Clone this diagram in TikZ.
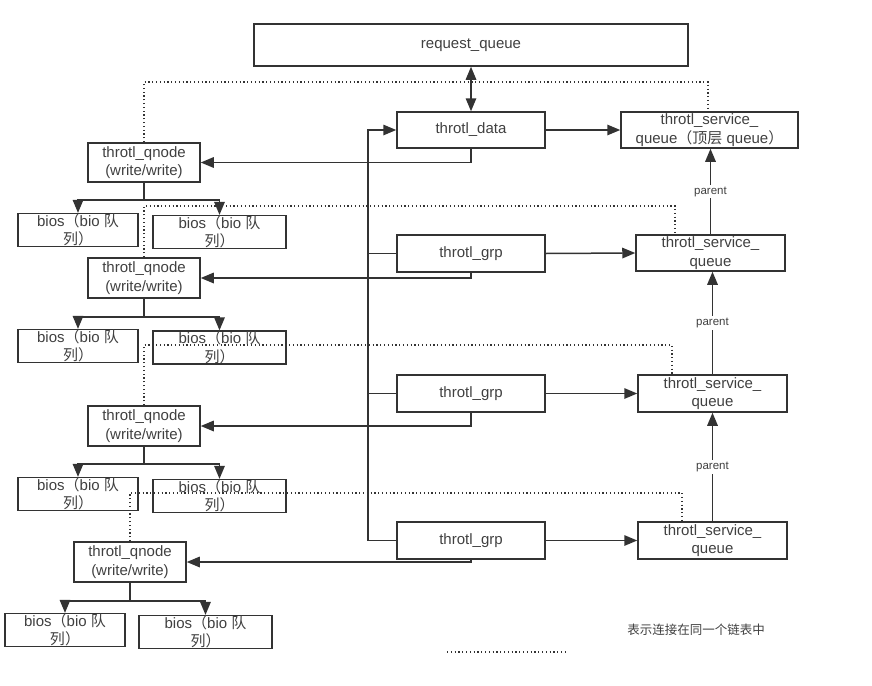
\documentclass[tikz,border=0pt]{standalone}
\usepackage{fontspec}
\setmainfont{Liberation Sans}
\newfontfamily\cjk{Noto Sans CJK SC}
\usetikzlibrary{arrows.meta,calc}
\definecolor{lncol}{HTML}{333333}
\definecolor{txcol}{HTML}{404040}
\begin{document}
\begin{tikzpicture}[x=1pt,y=-1pt,
  box/.style={draw=lncol,line width=1.5pt,text=txcol,inner sep=0pt,align=center,
    font=\fontsize{15}{18.5}\selectfont},
  arr/.style={draw=lncol,line width=1.5pt,-{Triangle[length=13pt,width=10.5pt]}},
  darr/.style={draw=lncol,line width=1.5pt,{Triangle[length=13pt,width=10.5pt]}-{Triangle[length=13pt,width=10.5pt]}},
  plain/.style={draw=lncol,line width=1.5pt},
  dotl/.style={draw=lncol,line width=1.2pt,dash pattern=on 1.2pt off 2.6pt},
  plab/.style={midway,fill=white,text=txcol,inner sep=2pt,font=\fontsize{11.5}{13}\selectfont}
]
\useasboundingbox (0,0) rectangle (872,685);

% top row
\node[box,minimum width=434pt,minimum height=42pt] (rq) at (471,45) {request\_queue};
\node[box,minimum width=148pt,minimum height=36pt] (data) at (471,130) {throtl\_data};
\node[box,minimum width=177pt,minimum height=36pt] (tsq1) at (709.5,130) {throtl\_service\_\\queue{\cjk （顶层} queue{\cjk ）}};

% level 1
\node[box,minimum width=112pt,minimum height=39pt] (q1) at (144,162.5) {throtl\_qnode\\(write/write)};
\node[box,minimum width=120pt,minimum height=32pt] (b1l) at (78,230) {bios{\cjk （}bio {\cjk 队}\\{\cjk 列）}};
\node[box,minimum width=133pt,minimum height=32pt] (b1r) at (219.5,232) {bios{\cjk （}bio {\cjk 队}\\{\cjk 列）}};

% level 2
\node[box,minimum width=148pt,minimum height=37pt] (grp1) at (471,253.5) {throtl\_grp};
\node[box,minimum width=149pt,minimum height=36pt] (tsq2) at (710.5,253) {throtl\_service\_\\queue};
\node[box,minimum width=112pt,minimum height=40pt] (q2) at (144,278) {throtl\_qnode\\(write/write)};
\node[box,minimum width=120pt,minimum height=32pt] (b2l) at (78,346) {bios{\cjk （}bio {\cjk 队}\\{\cjk 列）}};
\node[box,minimum width=133pt,minimum height=31pt] (b2r) at (219.5,347.5) {bios{\cjk （}bio {\cjk 队}\\{\cjk 列）}};

% level 3
\node[box,minimum width=148pt,minimum height=37pt] (grp2) at (471,393.5) {throtl\_grp};
\node[box,minimum width=149pt,minimum height=37pt] (tsq3) at (712.5,393.5) {throtl\_service\_\\queue};
\node[box,minimum width=112pt,minimum height=40pt] (q3) at (144,426) {throtl\_qnode\\(write/write)};
\node[box,minimum width=120pt,minimum height=32pt] (b3l) at (78,494) {bios{\cjk （}bio {\cjk 队}\\{\cjk 列）}};
\node[box,minimum width=133pt,minimum height=32pt] (b3r) at (219.5,496) {bios{\cjk （}bio {\cjk 队}\\{\cjk 列）}};

% level 4
\node[box,minimum width=148pt,minimum height=37pt] (grp3) at (471,540.5) {throtl\_grp};
\node[box,minimum width=149pt,minimum height=37pt] (tsq4) at (712.5,540.5) {throtl\_service\_\\queue};
\node[box,minimum width=112pt,minimum height=40pt] (q4) at (130,562) {throtl\_qnode\\(write/write)};
\node[box,minimum width=120pt,minimum height=32pt] (b4l) at (65,630) {bios{\cjk （}bio {\cjk 队}\\{\cjk 列）}};
\node[box,minimum width=133pt,minimum height=32pt] (b4r) at (205.5,632) {bios{\cjk （}bio {\cjk 队}\\{\cjk 列）}};

% request_queue <-> throtl_data
\draw[darr] (rq.south) -- (data.north);
% data -> tsq1, grp -> tsq
\draw[arr] (data.east) -- (tsq1.west);
\draw[arr] (grp1.east) -- (tsq2.west);
\draw[arr] (grp2.east) -- (tsq3.west);
\draw[arr] (grp3.east) -- (tsq4.west);

% parent arrows
\draw[arr] (tsq2.north) -- (tsq2.north |- tsq1.south) node[plab] {parent};
\draw[arr] (tsq3.north) -- (tsq3.north |- tsq2.south) node[plab] {parent};
\draw[arr] (tsq4.north) -- (tsq4.north |- tsq3.south) node[plab] {parent};

% vertical bus at x=368
\coordinate (vtop) at (368,130);
\coordinate (vbot) at (368,540.5);
\draw[arr] (grp3.west) -- (vbot) -- (vtop) -- (data.west);
\draw[plain] (grp1.west) -- (grp1.west -| vtop);
\draw[plain] (grp2.west) -- (grp2.west -| vtop);

% data/grp -> qnode
\draw[arr] (data.south) |- (q1.east);
\draw[arr] (grp1.south) |- (q2.east);
\draw[arr] (grp2.south) |- (q3.east);
\draw[arr] ([yshift=0.6pt]grp3.south) |- (q4.east);

% qnode -> bios
\draw[arr] (q1.south) -- ++(0,17) -| (b1l.north);
\draw[arr] (q1.south) -- ++(0,17) -| (b1r.north);
\draw[arr] (q2.south) -- ++(0,18) -| (b2l.north);
\draw[arr] (q2.south) -- ++(0,18) -| (b2r.north);
\draw[arr] (q3.south) -- ++(0,17) -| (b3l.north);
\draw[arr] (q3.south) -- ++(0,17) -| (b3r.north);
\draw[arr] (q4.south) -- ++(0,18) -| (b4l.north);
\draw[arr] (q4.south) -- ++(0,18) -| (b4r.north);

% dotted list links
\coordinate (d1) at (708,82);
\coordinate (d2) at (675,206);
\coordinate (d3) at (672,345);
\coordinate (d4) at (682,493);
\draw[dotl] (q1.north) |- (d1) -- (d1 |- tsq1.north);
\draw[dotl] (q2.north) |- (d2) -- (d2 |- tsq2.north);
\draw[dotl] (q3.north) |- (d3) -- (d3 |- tsq3.north);
\draw[dotl] (q4.north) |- (d4) -- (d4 |- tsq4.north);

% legend
\coordinate (lg1) at (447,652);
\coordinate (lg2) at (565,652);
\draw[dotl] (lg1) -- (lg2);
\node[text=txcol,font=\cjk\fontsize{12.5}{14}\selectfont,inner sep=0pt] (lgt) at (696,630) {表示连接在同一个链表中};
\end{tikzpicture}
\end{document}
